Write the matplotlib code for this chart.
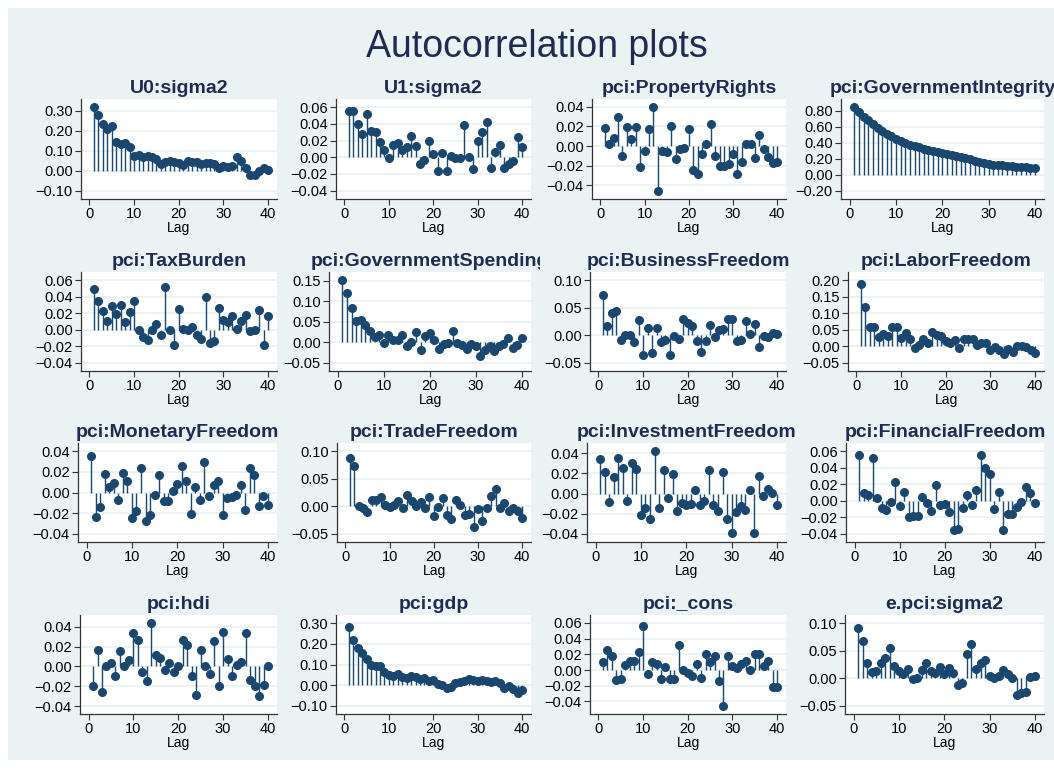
import numpy as np
import matplotlib.pyplot as plt
from matplotlib.ticker import FuncFormatter
from matplotlib.patches import Rectangle
from matplotlib.transforms import Bbox, TransformedBbox

plt.rcParams['font.family'] = ['Liberation Sans', 'DejaVu Sans']

# lags 1..40 for every panel
lags = np.arange(1, 41)

names = ['U0:sigma2', 'U1:sigma2', 'pci:PropertyRights', 'pci:GovernmentIntegrity',
         'pci:TaxBurden', 'pci:GovernmentSpending', 'pci:BusinessFreedom', 'pci:LaborFreedom',
         'pci:MonetaryFreedom', 'pci:TradeFreedom', 'pci:InvestmentFreedom', 'pci:FinancialFreedom',
         'pci:hdi', 'pci:gdp', 'pci:_cons', 'e.pci:sigma2']

u0_sigma2 = [0.32, 0.28, 0.235, 0.21, 0.225, 0.145, 0.135, 0.14, 0.12, 0.075,
             0.08, 0.07, 0.075, 0.07, 0.06, 0.035, 0.045, 0.05, 0.045, 0.04,
             0.03, 0.05, 0.045, 0.045, 0.035, 0.04, 0.04, 0.035, 0.015, 0.025,
             0.02, 0.025, 0.07, 0.05, 0.015, -0.02, -0.02, 0.0, 0.015, 0.005]
u1_sigma2 = [0.055, 0.056, 0.04, 0.028, 0.052, 0.032, 0.03, 0.018, 0.009, -0.001,
             0.015, 0.017, 0.009, 0.012, 0.025, 0.014, -0.008, -0.003, 0.019, 0.004,
             -0.016, 0.005, -0.017, 0.001, -0.001, -0.001, 0.039, 0.0, -0.014, 0.02,
             0.03, 0.042, -0.013, 0.006, 0.015, -0.013, -0.008, -0.004, 0.024, 0.012]
property_rights = [0.018, 0.002, 0.008, 0.03, -0.01, 0.019, 0.007, 0.019, -0.021, -0.005,
                   0.017, 0.04, -0.046, -0.005, -0.006, 0.02, -0.013, -0.003, -0.002, 0.017,
                   -0.024, -0.028, -0.008, 0.002, 0.023, -0.01, -0.02, -0.02, -0.018, -0.008,
                   -0.029, -0.016, 0.002, 0.002, -0.012, 0.011, -0.003, -0.011, -0.017, -0.016]
gov_integrity = [0.85, 0.79, 0.73, 0.69, 0.64, 0.59, 0.55, 0.515, 0.485, 0.455,
                 0.43, 0.40, 0.38, 0.36, 0.345, 0.33, 0.315, 0.30, 0.29, 0.28,
                 0.265, 0.25, 0.235, 0.22, 0.21, 0.195, 0.18, 0.165, 0.15, 0.14,
                 0.13, 0.125, 0.12, 0.115, 0.11, 0.105, 0.10, 0.095, 0.09, 0.085]
tax_burden = [0.05, 0.035, 0.023, 0.011, 0.029, 0.019, 0.03, 0.009, 0.022, 0.035,
              0.0, -0.009, -0.013, 0.0, 0.007, -0.006, 0.052, 0.0, -0.019, 0.025,
              0.001, 0.0, 0.003, -0.006, -0.011, 0.04, -0.016, -0.014, 0.026, 0.012,
              0.009, 0.017, 0.001, 0.011, 0.018, -0.002, 0.0, 0.024, -0.018, 0.017]
gov_spending = [0.152, 0.121, 0.084, 0.052, 0.055, 0.042, 0.027, 0.012, 0.019, -0.002,
                0.019, 0.005, 0.005, 0.019, -0.008, 0.001, 0.026, -0.018, 0.016, 0.023,
                0.005, -0.017, -0.003, -0.001, 0.028, -0.002, -0.007, -0.015, -0.003, -0.01,
                -0.034, -0.018, -0.008, -0.022, -0.01, -0.004, 0.01, -0.014, -0.006, 0.01]
business_freedom = [0.073, 0.016, 0.041, 0.045, -0.009, 0.0, 0.0, -0.012, 0.027, -0.035,
                    0.013, -0.033, 0.013, -0.013, -0.009, -0.036, -0.002, -0.007, 0.03, 0.023,
                    0.016, -0.011, -0.03, -0.01, 0.018, -0.004, 0.01, 0.012, 0.029, 0.029,
                    -0.01, -0.008, 0.026, 0.003, 0.021, -0.022, -0.002, -0.004, 0.005, 0.002]
labor_freedom = [0.19, 0.12, 0.058, 0.057, 0.027, 0.036, 0.031, 0.057, 0.057, 0.026,
                 0.041, 0.022, -0.004, 0.003, 0.023, 0.011, 0.043, 0.034, 0.03, 0.016,
                 0.01, 0.02, -0.004, 0.022, 0.021, 0.022, 0.004, 0.009, 0.009, -0.011,
                 -0.002, -0.01, -0.022, -0.007, -0.017, 0.001, 0.001, -0.002, -0.01, -0.02]
monetary_freedom = [0.035, -0.024, -0.014, 0.018, 0.005, 0.009, -0.007, 0.019, 0.011, -0.025,
                    -0.018, 0.024, -0.028, -0.022, -0.002, 0.017, -0.008, -0.008, 0.001, 0.008,
                    0.026, 0.011, -0.021, 0.005, -0.007, 0.03, -0.003, 0.007, 0.011, -0.022,
                    -0.005, -0.004, -0.002, 0.007, -0.017, 0.024, 0.017, -0.013, -0.003, -0.012]
trade_freedom = [0.087, 0.073, 0.001, -0.004, -0.01, 0.012, 0.012, 0.017, 0.003, -0.002,
                 0.003, 0.009, -0.003, 0.02, 0.01, 0.0, 0.008, -0.004, 0.017, -0.017,
                 -0.001, 0.015, -0.016, -0.024, 0.012, 0.003, -0.016, -0.014, -0.038, -0.005,
                 -0.027, -0.003, 0.019, 0.031, -0.003, 0.006, -0.009, -0.004, -0.008, -0.022]
investment_freedom = [0.034, 0.021, -0.008, 0.016, 0.035, 0.025, -0.007, 0.03, 0.024, -0.021,
                      -0.014, -0.025, 0.042, -0.014, 0.023, -0.004, 0.019, -0.017, -0.009, -0.011,
                      -0.01, 0.003, -0.011, -0.007, 0.023, -0.011, -0.017, 0.021, -0.025, -0.039,
                      -0.018, -0.012, -0.016, 0.003, -0.039, 0.017, -0.002, 0.004, 0.001, -0.011]
financial_freedom = [0.055, 0.01, 0.007, 0.052, 0.003, -0.009, -0.011, -0.002, 0.023, -0.006,
                     0.011, -0.02, -0.018, -0.019, 0.004, -0.003, -0.012, 0.019, -0.005, -0.004,
                     -0.014, -0.035, -0.034, -0.009, 0.007, -0.005, 0.013, 0.056, 0.04, 0.032,
                     -0.01, 0.011, -0.035, -0.016, -0.016, -0.007, -0.001, 0.017, 0.009, -0.003]
hdi = [-0.02, 0.017, -0.026, 0.0, 0.004, -0.01, 0.016, 0.0, 0.007, 0.034,
       0.027, -0.006, -0.015, 0.044, 0.012, 0.009, -0.004, 0.004, -0.006, 0.0,
       0.027, 0.022, -0.01, -0.029, 0.017, 0.0, -0.008, 0.026, -0.02, 0.035,
       0.008, -0.01, 0.002, 0.005, 0.034, -0.014, -0.02, -0.03, -0.019, 0.0]
gdp = [0.28, 0.22, 0.18, 0.155, 0.125, 0.1, 0.095, 0.095, 0.065, 0.05,
       0.045, 0.055, 0.04, 0.035, 0.045, 0.04, 0.03, 0.035, 0.02, 0.025,
       0.005, 0.0, -0.015, -0.01, 0.01, 0.015, 0.02, 0.03, 0.025, 0.02,
       0.025, 0.02, 0.015, 0.02, 0.01, -0.015, -0.005, -0.02, -0.04, -0.025]
cons = [0.01, 0.025, 0.018, -0.013, -0.012, 0.006, 0.012, 0.011, 0.023, 0.056,
        -0.005, 0.01, 0.008, -0.012, 0.004, -0.012, -0.012, 0.032, 0.0, -0.004,
        -0.008, 0.008, -0.01, 0.02, 0.01, 0.018, -0.014, -0.046, 0.018, 0.005,
        0.002, 0.008, 0.012, 0.0, 0.021, 0.02, 0.005, 0.012, -0.022, -0.021]
e_sigma2 = [0.092, 0.068, 0.027, 0.012, 0.014, 0.028, 0.037, 0.055, 0.023, 0.014,
            0.008, 0.017, -0.001, 0.001, 0.015, 0.028, 0.014, 0.01, 0.021, 0.007,
            0.019, 0.009, -0.013, -0.008, 0.045, 0.062, 0.016, 0.027, 0.034, 0.004,
            0.0, 0.005, 0.015, 0.008, 0.0, -0.03, -0.027, -0.025, 0.003, 0.004]

series = [u0_sigma2, u1_sigma2, property_rights, gov_integrity,
          tax_burden, gov_spending, business_freedom, labor_freedom,
          monetary_freedom, trade_freedom, investment_freedom, financial_freedom,
          hdi, gdp, cons, e_sigma2]

# y tick ranges (lo, hi, step) per panel
yticks = [(-0.1, 0.3, 0.1), (-0.04, 0.06, 0.02), (-0.04, 0.04, 0.02), (-0.2, 0.8, 0.2),
          (-0.04, 0.06, 0.02), (-0.05, 0.15, 0.05), (-0.05, 0.10, 0.05), (-0.05, 0.20, 0.05),
          (-0.04, 0.04, 0.02), (-0.05, 0.10, 0.05), (-0.04, 0.04, 0.02), (-0.04, 0.06, 0.02),
          (-0.04, 0.04, 0.02), (-0.1, 0.3, 0.1), (-0.04, 0.06, 0.02), (-0.05, 0.10, 0.05)]

navy = '#1a476f'
title_col = '#1f2b52'
bg = '#eaf2f3'

W, H = 1054, 769
fig = plt.figure(figsize=(W / 100, H / 100), dpi=100, facecolor='white')
fig.add_artist(Rectangle((8 / W, 9 / H), (W - 8) / W, (H - 17) / H,
                         transform=fig.transFigure, facecolor=bg,
                         edgecolor='none', zorder=-10))

# layout in pixels
tops = [99, 272, 443, 615]
bottoms = [199, 371, 542, 714]
lefts = [[81, 336, 592, 841], [81, 329, 590, 848],
         [78, 337, 587, 846], [80, 336, 590, 845]]
rights = [277, 531, 786, 1044]
cell_l = [30, 285, 540, 795]
cell_r = [285, 540, 795, 1054]

fmt = FuncFormatter(lambda v, p: f'{v:.2f}'.replace('-', '\u2212'))

for i, (name, vals) in enumerate(zip(names, series)):
    r, c = divmod(i, 4)
    x0, x1 = lefts[r][c], rights[c]
    ax = fig.add_axes([x0 / W, 1 - bottoms[r] / H, (x1 - x0) / W, (bottoms[r] - tops[r]) / H])
    ax.set_facecolor('white')
    ax.vlines(lags, 0, vals, color=navy, lw=1.0, zorder=3)
    ax.plot(lags, vals, 'o', color=navy, ms=5.5, zorder=4)

    lo, hi, st = yticks[i]
    ticks = np.arange(lo, hi + st / 2, st)
    pad = 0.1 * (hi - lo)
    ax.set_ylim(min(lo, min(vals)) - pad, max(hi, max(vals)) + pad)
    ax.set_yticks(ticks)
    ax.yaxis.set_major_formatter(fmt)
    ax.set_xlim(-1.9, 42)
    ax.set_xticks([0, 10, 20, 30, 40])
    ax.grid(axis='y', color=bg, lw=1.3, zorder=0)
    ax.set_axisbelow(True)

    for s in ['top', 'right']:
        ax.spines[s].set_visible(False)
    for s in ['left', 'bottom']:
        ax.spines[s].set_color('#333333')
        ax.spines[s].set_linewidth(0.9)
    ax.tick_params(direction='out', length=4, width=0.8, color='#333333',
                   labelsize=10.5, pad=2, labelcolor='black')
    ax.set_xlabel('Lag', fontsize=10, labelpad=0)

    t = ax.set_title(name, fontsize=14, fontweight='bold', color=title_col, pad=4)
    clip = TransformedBbox(Bbox([[cell_l[c] / W, 0], [cell_r[c] / W, 1]]), fig.transFigure)
    t.set_clip_box(clip)
    t.set_clip_on(True)

fig.text(537 / W, 1 - 47 / H, 'Autocorrelation plots', ha='center', va='center',
         fontsize=27, color=title_col)

fig.savefig('out.png', dpi=100, facecolor=fig.get_facecolor())
